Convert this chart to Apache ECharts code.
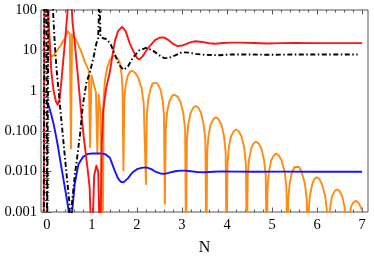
<!DOCTYPE html>
<html><head><meta charset="utf-8">
<script src="https://cdn.jsdelivr.net/npm/echarts@6/dist/echarts.min.js"></script>
<style>html,body{margin:0;padding:0;background:#fff}#c{width:374px;height:263px}</style>
</head><body><div id="c"></div>
<script>
// ---- data: [N, value] ----
const redCurve = [[-0.07,0.0001],[-0.055,300],[0.01,300],[0.03,80],[0.06,20],[0.1,3],[0.15,1],[0.2,0.55],[0.24,0.45],[0.28,0.6],[0.32,1.6],[0.36,5],[0.41,20],[0.45,70],[0.48,200],[0.54,200],[0.57,50],[0.61,20],[0.65,6.7],[0.7,1.7],[0.76,0.3],[0.82,0.07],[0.9,0.013],[0.95,0.004],[1.0,0.0001],[1.05,0.008],[1.1,0.014],[1.14,0.01],[1.18,0.0001],[1.22,0.05],[1.25,0.33],[1.32,1.2],[1.4,3],[1.46,8],[1.51,17],[1.58,30],[1.67,38],[1.75,30],[1.84,15],[1.92,9.6],[2.0,6.5],[2.05,6],[2.12,7],[2.2,9.5],[2.29,13],[2.4,18],[2.5,20.5],[2.6,21],[2.7,18],[2.8,14.5],[2.9,12.8],[3.0,13.2],[3.1,14.5],[3.2,16],[3.3,16.8],[3.45,16.2],[3.6,15],[3.75,14.6],[3.9,15.2],[4.1,15.6],[4.3,15.6],[4.6,15.3],[4.9,14.8],[5.2,15.1],[5.5,15.2],[6.0,15.1],[6.5,15.1],[7.0,15.1]];
const blackCurve = [[-0.07,0.00005],[-0.055,500],[-0.01,500],[0.005,0.00005],[0.02,0.00005],[0.035,500],[0.12,500],[0.14,80],[0.18,12],[0.22,3],[0.27,0.8],[0.32,0.2],[0.38,0.04],[0.44,0.008],[0.5,0.0018],[0.53,0.0001],[0.56,0.0018],[0.62,0.008],[0.67,0.021],[0.74,0.09],[0.8,0.45],[0.88,1.6],[0.96,3],[1.04,7],[1.1,15],[1.14,20],[1.16,22],[1.17,300],[1.19,22],[1.25,20],[1.33,19],[1.42,14],[1.51,7.9],[1.6,4.5],[1.7,3.3],[1.8,4],[1.91,6.6],[2.05,10],[2.2,11.5],[2.35,10],[2.5,7.5],[2.6,6.5],[2.7,6.4],[2.85,7.5],[3.0,9],[3.15,8.8],[3.3,8.2],[3.5,7.8],[3.8,7.6],[4.1,7.9],[4.5,7.9],[5.0,7.8],[5.5,7.9],[6.0,7.9],[6.5,7.9],[6.9,7.9]];
const blueCurve = [[0.0,0.55],[0.05,0.4],[0.1,0.25],[0.15,0.15],[0.2,0.08],[0.25,0.04],[0.3,0.018],[0.35,0.0085],[0.4,0.004],[0.45,0.0019],[0.5,0.0008],[0.53,0.0001],[0.56,0.001],[0.62,0.005],[0.7,0.015],[0.8,0.023],[0.9,0.027],[1.0,0.028],[1.1,0.028],[1.2,0.028],[1.3,0.027],[1.4,0.022],[1.5,0.011],[1.58,0.0068],[1.64,0.0056],[1.7,0.0054],[1.8,0.0068],[1.9,0.0095],[2.0,0.0115],[2.1,0.0124],[2.21,0.0127],[2.32,0.0115],[2.42,0.0098],[2.52,0.009],[2.62,0.0088],[2.72,0.0094],[2.85,0.0102],[2.97,0.0106],[3.07,0.0106],[3.2,0.0102],[3.35,0.0097],[3.5,0.0096],[3.7,0.0099],[3.9,0.0101],[4.2,0.01],[4.6,0.0099],[5.2,0.01],[6.0,0.0099],[7.0,0.0099]];
const orangeCurve = [[0.0,300],[0.03,30],[0.06,9],[0.1,7],[0.15,7.5],[0.2,9],[0.3,13],[0.4,20],[0.47,30],[0.51,25],[0.535,0.037],[0.56,25],[0.59,27],[0.65,18],[0.76,9.6],[0.85,5],[0.93,3.2],[0.96,0.04],[0.99,2.4],[1.04,1.5],[1.09,0.9],[1.12,0.03],[1.15,0.8],[1.19,0.3],[1.24,0.0001],[1.26,0.6],[1.29,1.8],[1.34,3.8],[1.4,5.8],[1.46,7],[1.52,7.3],[1.58,6.2],[1.62,4.9],[1.66,2.5],[1.68,1.1],[1.7,0.0106],[1.72,0.6],[1.75,1.4],[1.8,2.4],[1.85,3.0],[1.9,3.1],[1.96,2.8],[2.03,2.1],[2.1,1.2],[2.15,0.5],[2.2,0.0049],[2.22,0.25],[2.25,0.6],[2.3,1.1],[2.35,1.55],[2.39,1.7],[2.45,1.55],[2.52,1.1],[2.57,0.6],[2.6,0.25],[2.62,0.0016],[2.64,0.11],[2.67,0.3],[2.72,0.55],[2.78,0.75],[2.83,0.8],[2.9,0.72],[2.97,0.52],[3.03,0.28],[3.07,0.11],[3.09,0.0001],[3.11,0.06],[3.14,0.15],[3.19,0.28],[3.25,0.38],[3.3,0.42],[3.36,0.39],[3.42,0.29],[3.48,0.15],[3.52,0.06],[3.54,0.0001],[3.56,0.03],[3.59,0.08],[3.64,0.15],[3.7,0.2],[3.75,0.22],[3.81,0.2],[3.87,0.15],[3.93,0.08],[3.97,0.03],[3.99,0.0001],[4.01,0.015],[4.04,0.04],[4.09,0.075],[4.15,0.1],[4.2,0.11],[4.26,0.1],[4.32,0.075],[4.38,0.04],[4.42,0.015],[4.44,0.0001],[4.46,0.008],[4.49,0.02],[4.54,0.038],[4.59,0.05],[4.64,0.055],[4.7,0.05],[4.76,0.038],[4.82,0.02],[4.86,0.008],[4.88,0.0001],[4.9,0.004],[4.93,0.01],[4.98,0.019],[5.04,0.025],[5.09,0.028],[5.15,0.025],[5.21,0.019],[5.28,0.01],[5.32,0.004],[5.34,0.0001],[5.36,0.002],[5.39,0.005],[5.44,0.0095],[5.5,0.013],[5.54,0.014],[5.6,0.013],[5.66,0.0095],[5.73,0.005],[5.77,0.002],[5.79,0.0001],[5.81,0.001],[5.84,0.0025],[5.89,0.0048],[5.94,0.0066],[5.99,0.0072],[6.05,0.0066],[6.11,0.0048],[6.18,0.0025],[6.22,0.001],[6.24,0.0001],[6.26,0.0005],[6.29,0.0013],[6.33,0.0024],[6.39,0.0033],[6.44,0.0036],[6.5,0.0033],[6.56,0.0024],[6.61,0.0013],[6.64,0.0005],[6.66,0.0001],[6.68,0.0003],[6.71,0.0007],[6.75,0.0013],[6.8,0.0017],[6.86,0.0019],[6.92,0.0017],[6.97,0.0013],[7.0,0.0011]];

const xTicks = [0,1,2,3,4,5,6,7];
const xTickLabels = ['0','1','2','3','4','5','6','7'];
const yTicks = [0.001,0.01,0.1,1,10,100];
const yTickLabels = ['0.001','0.010','0.100','1','10','100'];
const xLabel = 'N';

// minor tick positions
const xMinor = [];
for (let i = 0; i < 7; i++) for (let j = 1; j < 5; j++) xMinor.push(+(i + j*0.2).toFixed(2));
const yMinor = [];
for (let k = -3; k < 2; k++) for (let m = 2; m < 10; m++) yMinor.push(+(m*Math.pow(10,k)).toPrecision(3));

const FRAME = '#555';
const FONT = 'Liberation Serif';
const XMIN = -0.13, XMAX = 7.13, YMIN = 0.001, YMAX = 100;

function xAx(pos, ticks, len, labels) {
  return {
    type:'value', min:XMIN, max:XMAX, position:pos,
    axisLine:{show:false}, splitLine:{show:false},
    axisTick:{show:true, inside:true, length:len, customValues:ticks, lineStyle:{color:FRAME, width:1}},
    axisLabel: labels ? {show:true, customValues:ticks, margin:6, color:'#000', fontFamily:FONT, fontSize:14.5,
      formatter: v => { const i = xTicks.findIndex(t => Math.abs(t - v) < 1e-9); return i >= 0 ? xTickLabels[i] : ''; }} : {show:false}
  };
}
function yAx(pos, ticks, len, labels) {
  return {
    type:'log', logBase:10, min:YMIN, max:YMAX, position:pos,
    axisLine:{show:false}, splitLine:{show:false},
    axisTick:{show:true, inside:true, length:len, customValues:ticks, lineStyle:{color:FRAME, width:1}},
    axisLabel: labels ? {show:true, customValues:ticks, margin:4, color:'#000', fontFamily:FONT, fontSize:14.5,
      formatter: v => { const i = yTicks.findIndex(t => Math.abs(Math.log10(t) - Math.log10(v)) < 1e-6); return i >= 0 ? yTickLabels[i] : ''; }} : {show:false}
  };
}

const xAxes = [xAx('bottom', xTicks, 4.5, true), xAx('bottom', xMinor, 2.5, false), xAx('top', xTicks, 4.5, false), xAx('top', xMinor, 2.5, false)];
xAxes[0].name = xLabel; xAxes[0].nameLocation = 'middle'; xAxes[0].nameGap = 28;
xAxes[0].nameTextStyle = {fontFamily:FONT, fontSize:16, color:'#000'};
const yAxes = [yAx('left', yTicks, 4.5, true), yAx('left', yMinor, 2.5, false), yAx('right', yTicks, 4.5, false), yAx('right', yMinor, 2.5, false)];

function line(data, color, type) {
  return {type:'line', data:data, xAxisIndex:0, yAxisIndex:0, showSymbol:false, symbol:'none', clip:true,
    animation:false, lineStyle:{color:color, width:1.9, type:type || 'solid', cap:'butt', join:'round'}};
}

const chart = echarts.init(document.getElementById('c'), null, {renderer:'canvas'});
chart.setOption({
  animation:false,
  grid:{left:41, right:6, top:10, bottom:51, show:true, borderColor:FRAME, borderWidth:1, backgroundColor:'transparent', containLabel:false},
  xAxis: xAxes,
  yAxis: yAxes,
  series: [
    line(orangeCurve, '#ff8a14'),
    line(blueCurve, '#1414ff'),
    line(redCurve, '#ff1414'),
    line(blackCurve, '#000', [5,2.5,1.5,2.5])
  ]
});
</script></body></html>
